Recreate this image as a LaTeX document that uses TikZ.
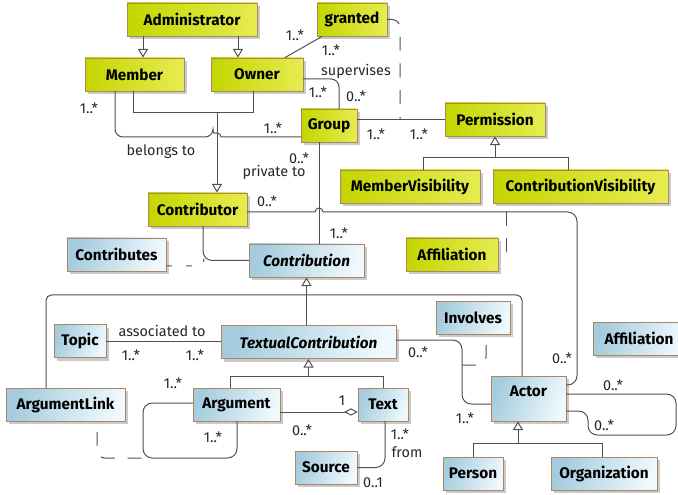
\documentclass[tikz,border=0pt]{standalone}
\usepackage{fontspec}
\setmainfont{Fira Sans}
\usepackage{tikz}
\usetikzlibrary{arrows.meta, shadows, calc}

\begin{document}
\begin{tikzpicture}
		[x=0.75pt,y=-0.75pt,line cap=round,
		%Styles
		class box/.style={draw=frame,line width=0.6pt,minimum height=24.75pt,inner sep=2pt,
			font=\bfseries\fontsize{11.5}{13}\selectfont,
			drop shadow={shadow xshift=2.6pt,shadow yshift=-2.6pt,fill=black!35,opacity=.6}},
		green class/.style={class box,left color=greenL,right color=greenR,minimum width=#1*0.75pt},
		blue class/.style={class box,left color=blueL,right color=blueR,shading angle=70,minimum width=#1*0.75pt},
		wire/.style={draw=wirec,line width=0.75pt},
		gen line/.style={wire,-{Triangle[open,length=6.5pt,width=7.5pt]}},
		agg line/.style={wire,-{Diamond[open,length=10pt,width=5.5pt]}},
		class link/.style={wire,dash pattern=on 10pt off 10pt},
		mult/.style={inner sep=0pt,font=\fontsize{10.8}{12}\selectfont,text=black!85}
		]
		
		%Colors
		\definecolor{greenL}{RGB}{196,214,0}
		\definecolor{greenR}{RGB}{230,236,80}
		\definecolor{blueL}{RGB}{164,204,222}
		\definecolor{blueR}{RGB}{238,248,253}
		\definecolor{frame}{RGB}{172,134,96}
		\definecolor{wirec}{RGB}{80,80,80}
		
		\useasboundingbox (0,0) rectangle (678,495);
		\clip (0,0) rectangle (678,495);
		
		%The classes
		\node[green class=130] (adm) at (192,19.5) {Administrator};
		\node[green class=99] (mem) at (134.5,74.5) {Member};
		\node[green class=92] (own) at (257,74.5) {Owner};
		\node[green class=70] (grt) at (352,19.5) {granted};
		\node[green class=56] (grp) at (329,125.5) {Group};
		\node[green class=100] (prm) at (495,119.5) {Permission};
		\node[green class=140] (mvis) at (410,186.5) {MemberVisibility};
		\node[green class=175] (cvis) at (580.5,186.5) {ContributionVisibility};
		\node[green class=99] (ctor) at (197.5,209.5) {Contributor};
		\node[green class=92] (afg) at (452,254.5) {Affiliation};
		
		\node[blue class=99] (ctb) at (116.5,254.5) {Contributes};
		\node[blue class=115] (cbn) at (306.5,260.5) {\itshape Contribution};
		\node[blue class=74] (inv) at (473,317.5) {Involves};
		\node[blue class=92] (afb) at (639,338.5) {Affiliation};
		\node[blue class=52] (top) at (80,341) {Topic};
		\node[blue class=175] (tcb) at (308.5,342) {\itshape TextualContribution};
		\node[blue class=119] (alk) at (65.5,404.5) {ArgumentLink};
		\node[blue class=87] (arg) at (236.5,404.5) {Argument};
		\node[blue class=50] (txt) at (383,404.5) {Text};
		\node[blue class=62] (src) at (326,467.5) {Source};
		\node[blue class=75,minimum height=0pt,inner ysep=4pt,text height=11pt,text depth=14.75pt] (act) at (528.5,398.5) {Actor};
		\node[blue class=60] (per) at (473,473.5) {Person};
		\node[blue class=106] (org) at (604,473.5) {Organization};
		
		%Generalizations
		\draw[gen line] (143,0 |- adm.south) -- (143,0 |- mem.north);
		\draw[gen line] (238,0 |- adm.south) -- (238,0 |- own.north);
		\draw[wire] (133,0 |- mem.south) |- (253,113) -- (253,0 |- own.south);
		\draw[gen line] (217,113) -- (217,0 |- ctor.north);
		\draw[gen line] (423,0 |- mvis.north) |- (prm.south |- 0,158) -- (prm.south);
		\draw[wire] (568,0 |- cvis.north) |- (prm.south |- 0,158);
		\draw[gen line] (tcb.north -| cbn.south) -- (cbn.south);
		\draw[wire,rounded corners=4pt] (46,0 |- alk.north) |- (522,295) -- (522,0 |- act.north);
		\draw[gen line] (230,0 |- arg.north) |- (tcb.south |- 0,376) -- (tcb.south);
		\draw[wire] (txt.north) |- (tcb.south |- 0,376);
		\draw[gen line] (473,0 |- per.north) |- (518,443) -- (518,0 |- act.south);
		\draw[wire] (602,0 |- org.north) |- (518,443);
		
		%Associations
		\draw[wire] (285,0 |- own.north) -- (322,0 |- grt.south);
		\node[mult] at (295,35) {1..*};
		\node[mult] at (331,50) {1..*};
		
		\draw[wire,rounded corners=6pt] (own.east |- 0,79) -| (339,0 |- grp.north);
		\node[mult] at (356,71) {supervises};
		\node[mult] at (318,92) {1..*};
		\node[mult] at (356,96) {0..*};
		
		\draw[wire] (grp.east |- prm.west) -- (prm.west);
		\draw[class link,rounded corners=6pt] (grt.east) -| (400,0 |- prm.west);
		\node[mult] at (376,134) {1..*};
		\node[mult] at (419,134) {1..*};
		
		\draw[wire,rounded corners=6pt] (115,0 |- mem.south) |- (213,137) [sharp corners] arc (180:360:4) -- (grp.west |- 0,137);
		\node[mult] at (89,108) {1..*};
		\node[mult] at (273,128) {1..*};
		\node[mult] at (161,152) {belongs to};
		
		\draw[wire] (319,0 |- grp.south) -- (319,0 |- cbn.north);
		\node[mult] at (299,158) {0..*};
		\node[mult] at (274,172) {private to};
		\node[mult] at (339,233) {1..*};
		
		\draw[wire] (ctor.east |- 0,212) -- (315,212) arc (180:360:4) [rounded corners=7pt] -- (577,212) -- (577,385) -- (act.east |- 0,385);
		\draw[class link,rounded corners=5pt] (506,212) |- (afg.east |- 0,259);
		\node[mult] at (267,201) {0..*};
		\node[mult] at (562,358) {0..*};
		
		\draw[wire,rounded corners=7pt] (203,0 |- ctor.south) |- (cbn.west);
		\draw[class link,dash pattern=on 4pt off 11pt] (ctb.east |- 0,266) -- (197,266) .. controls (203,266) .. (204,259);
		
		\draw[wire] (top.east) -- (tcb.west |- top.east);
		\node[mult] at (162,331) {associated to};
		\node[mult] at (131,355) {1..*};
		\node[mult] at (195,355) {1..*};
		
		\draw[wire,rounded corners=7pt] (arg.west |- 0,403) -| (143,458) -| (237,0 |- arg.south);
		\draw[class link,rounded corners=6pt,dash phase=-8pt] (97,0 |- alk.south) |- (143,458);
		\node[mult] at (173,383) {1..*};
		\node[mult] at (213,437) {1..*};
		
		\draw[agg line] (arg.east |- 0,412) -- (txt.west |- 0,412);
		\node[mult] at (342,401) {1};
		\node[mult] at (302,430) {0..*};
		
		\draw[wire,rounded corners=7pt] (385,0 |- txt.south) |- (src.east);
		\node[mult] at (400,434) {1..*};
		\node[mult] at (407,452) {from};
		\node[mult] at (373,483) {0..1};
		
		\draw[wire,rounded corners=7pt] (tcb.east |- 0,340) -| (462,404) -- (act.west |- 0,404);
		\draw[class link,rounded corners=6pt,dash phase=-8pt] (486,0 |- inv.south) |- (462,365);
		\node[mult] at (418,352) {0..*};
		\node[mult] at (465,418) {1..*};
		
		\draw[wire,rounded corners=7pt] (act.east |- 0,394) -- (676,394) -- (676,435) -- (588,435) -- (588,411) -- (act.east |- 0,411);
		\node[mult] at (613,385) {0..*};
		\node[mult] at (604,425) {0..*};
		
	\end{tikzpicture}
\end{document}
